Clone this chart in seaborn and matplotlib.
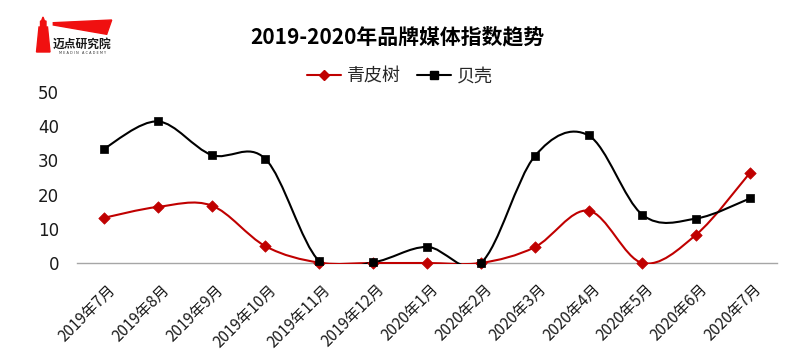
import numpy as np
import pandas as pd
import matplotlib
matplotlib.use("Agg")
import matplotlib.pyplot as plt
import seaborn as sns
from matplotlib.path import Path
from matplotlib.patches import PathPatch, Polygon
from matplotlib.lines import Line2D
from matplotlib.transforms import Bbox, TransformedBbox, ScaledTranslation

#%% data
months = ["2019年7月", "2019年8月", "2019年9月", "2019年10月", "2019年11月", "2019年12月",
          "2020年1月", "2020年2月", "2020年3月", "2020年4月", "2020年5月", "2020年6月", "2020年7月"]
qingpishu = [13.2, 16.4, 16.8, 4.9, 0.1, 0.0, 0.0, 0.0, 4.6, 15.3, 0.0, 8.3, 26.4]
beike = [33.4, 41.4, 31.6, 30.4, 0.5, 0.2, 4.7, 0.0, 31.2, 37.3, 14.1, 13.0, 18.9]
series_names = ["青皮树", "贝壳"]
series_colors = ["#C00000", "#000000"]
series_markers = ["D", "s"]

df = pd.DataFrame({"month": months * 2,
                   "pos": list(range(len(months))) * 2,
                   "value": qingpishu + beike,
                   "brand": [series_names[0]] * len(months) + [series_names[1]] * len(months)})

#%% style
sns.set_theme(style="white")
plt.rcParams['font.family'] = ['Noto Sans CJK SC', 'DejaVu Sans']


def smooth_path(xs, ys):
    # excel-like smoothed line: bezier segments with catmull-rom control points
    pts = np.column_stack([xs, ys]).astype(float)
    n = len(pts)
    verts = [pts[0]]
    codes = [Path.MOVETO]
    for i in range(n - 1):
        p0 = pts[i - 1] if i > 0 else pts[i]
        p1 = pts[i]
        p2 = pts[i + 1]
        p3 = pts[i + 2] if i + 2 < n else pts[i + 1]
        c1 = p1 + (p2 - p0) / 6.0
        c2 = p2 - (p3 - p1) / 6.0
        verts += [c1, c2, p2]
        codes += [Path.CURVE4] * 3
    return Path(verts, codes)


fig = plt.figure(figsize=(8, 3.55), dpi=100)
ax = fig.add_axes([0.09625, 0.2592, 0.875, 0.4816])

clip = TransformedBbox(Bbox([[-0.5, -0.35], [12.5, 50]]), ax.transData)
for name, col, mk in zip(series_names, series_colors, series_markers):
    sub = df[df["brand"] == name]
    patch = PathPatch(smooth_path(sub["pos"], sub["value"]), facecolor="none",
                      edgecolor=col, lw=1.5, zorder=3)
    ax.add_patch(patch)
    patch.set_clip_box(clip)
    sns.scatterplot(data=sub, x="pos", y="value", marker=mk, color=col,
                    s=34 if mk == "D" else 40, edgecolor=col, linewidth=0.5,
                    ax=ax, zorder=4, clip_on=False, legend=False)

ax.set_xlim(-0.5, 12.5)
ax.set_ylim(0, 50)
ax.set_yticks([0, 10, 20, 30, 40, 50])
ax.set_xticks(range(len(months)))
ax.set_xticklabels(months, rotation=45, ha="right", rotation_mode="anchor", fontsize=11)
ax.tick_params(axis="x", length=0, pad=13)
ax.tick_params(axis="y", length=0, pad=13, labelsize=12)
shift = ScaledTranslation(3 / 100, 0, fig.dpi_scale_trans)
for lab in ax.get_xticklabels():
    lab.set_transform(lab.get_transform() + shift)
    lab.set_color("#1A1A1A")
for lab in ax.get_yticklabels():
    lab.set_fontfamily(["DejaVu Sans"])
    lab.set_color("#1A1A1A")
ax.set_xlabel("")
ax.set_ylabel("")
for s in ["top", "right", "left"]:
    ax.spines[s].set_visible(False)
ax.spines["bottom"].set_color("#A6A6A6")
ax.spines["bottom"].set_linewidth(1.0)
ax.spines["bottom"].set_zorder(1)

#%% title and legend
fig.text(0.497, 0.897, "2019-2020年品牌媒体指数趋势", ha="center", va="center",
         fontsize=15, fontweight="bold", color="#000000")
handles = [Line2D([0], [0], color=c, lw=1.5, marker=m, markersize=5.5 if m == "D" else 6,
                  markerfacecolor=c, markeredgecolor=c)
           for c, m in zip(series_colors, series_markers)]
fig.legend(handles, series_names, loc="center", bbox_to_anchor=(0.5, 0.785), ncol=2,
           frameon=False, fontsize=13, handlelength=1.9, columnspacing=0.9, handletextpad=0.3,
           labelcolor="#262626")

#%% logo
red = "#F01010"
px2fig = lambda p: [p[0] / 800, 1 - p[1] / 355]
wedge = [[53.3, 22.7], [111.7, 20], [106.7, 34.3], [53.3, 25]]
tower = [[43, 17], [44.5, 21], [46, 21], [46, 27], [47.5, 27], [50, 52], [36.5, 52],
         [39, 27], [40.5, 27], [40.5, 21], [41.5, 21]]
for shape in [wedge, tower]:
    fig.patches.append(Polygon([px2fig(p) for p in shape], closed=True, color=red,
                               transform=fig.transFigure, figure=fig))
fig.text(82.5 / 800, 1 - 44.5 / 355, "迈点研究院", ha="center", va="center",
         fontsize=8.5, fontweight="bold", color="#1A1A1A")
fig.text(82.5 / 800, 1 - 53.5 / 355, "M E A D I N   A C A D E M Y", ha="center", va="center",
         fontsize=2.5, color="#333333", family=["DejaVu Sans"])

fig.savefig("out.png", dpi=100)
